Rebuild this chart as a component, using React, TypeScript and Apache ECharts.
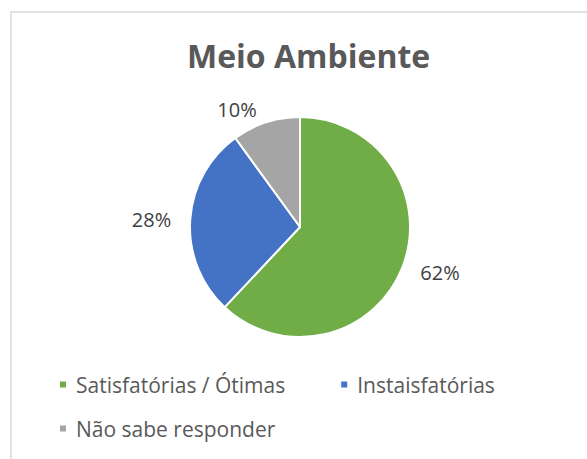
import React, { useEffect, useRef } from "react";
import * as echarts from "echarts";

const title = "Meio Ambiente";
const categories = ["Satisfatórias / Ótimas", "Instaisfatórias", "Não sabe responder"];
const values = [62, 28, 10];
const colors = ["#70AD47", "#4472C4", "#A5A5A5"];

export default function App() {
  const ref = useRef<HTMLDivElement>(null);
  useEffect(() => {
    document.body.style.margin = "0";
    const chart = echarts.init(ref.current!, null, { renderer: "svg" });
    const font = "'Open Sans', sans-serif";
    chart.setOption({
      animation: false,
      backgroundColor: "#ffffff",
      title: {
        text: title,
        left: 182,
        top: 34,
        textStyle: { fontFamily: font, fontSize: 32, fontWeight: "bold", color: "#595959" },
      },
      graphic: [
        {
          type: "rect",
          shape: { x: 11, y: 12, width: 700, height: 600 },
          style: { fill: "none", stroke: "#D9D9D9", lineWidth: 1.5 },
          silent: true,
        },
      ],
      legend: [
        {
          data: [categories[0], categories[1]],
          left: 53,
          top: 369,
          itemWidth: 8,
          itemHeight: 8,
          itemGap: 54,
          icon: "rect",
          textStyle: { fontFamily: font, fontSize: 21, color: "#595959", padding: [0, 0, 0, 4] },
        },
        {
          data: [categories[2]],
          left: 53,
          top: 413,
          itemWidth: 8,
          itemHeight: 8,
          icon: "rect",
          textStyle: { fontFamily: font, fontSize: 21, color: "#595959", padding: [0, 0, 0, 4] },
        },
      ],
      series: [
        {
          type: "pie",
          center: [300, 227],
          radius: 110,
          startAngle: 90,
          clockwise: true,
          color: colors,
          itemStyle: { borderColor: "#ffffff", borderWidth: 2 },
          label: {
            show: true,
            position: "outside",
            formatter: "{c}%",
            fontFamily: font,
            fontSize: 20,
            color: "#404040",
          },
          labelLine: { show: false, length: 14, length2: 0 },
          data: categories.map((c, i) => ({ name: c, value: values[i] })),
        },
      ],
    });
    return () => chart.dispose();
  }, []);
  return <div ref={ref} style={{ width: 587, height: 459 }} />;
}
